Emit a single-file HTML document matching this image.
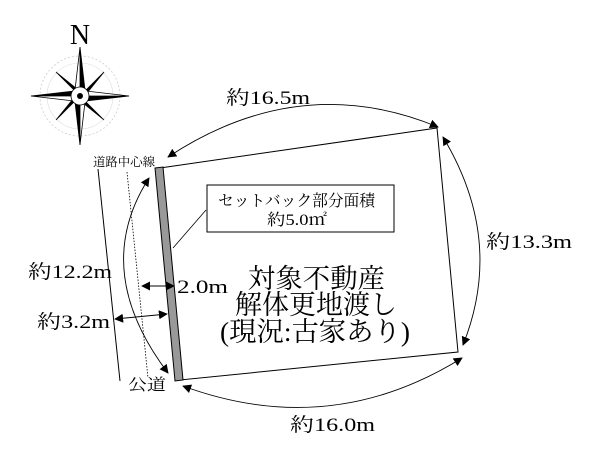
<!DOCTYPE html>
<html><head><meta charset="utf-8"><style>
html,body{margin:0;padding:0;background:#fff;}
svg{display:block}
text{font-family:"Liberation Serif","Noto Serif CJK JP","Noto Serif CJK SC",serif;fill:#000}
</style></head><body>
<svg width="600" height="455" viewBox="0 0 600 455" xmlns="http://www.w3.org/2000/svg">
<defs>
<marker id="a" viewBox="0 0 10 10" refX="9" refY="5" markerWidth="9" markerHeight="9" orient="auto-start-reverse" markerUnits="userSpaceOnUse"><path d="M0,0L10,5L0,10z" fill="#000"/></marker>
</defs>
<!-- compass -->
<text x="80" y="44" font-size="28" text-anchor="middle">N</text>
<g transform="translate(80,96)">
<circle r="40" fill="none" stroke="#ccc" stroke-width="0.8" stroke-dasharray="2 2"/>
<circle r="33" fill="none" stroke="#ddd" stroke-width="0.6"/>
<g fill="#000" stroke="#000" stroke-width="0.8">
<path d="M0,-49L5,-6L0,0z"/><path d="M0,-49L-5,-6L0,0z" fill="#fff"/>
<path d="M0,49L-5,6L0,0z"/><path d="M0,49L5,6L0,0z" fill="#fff"/>
<path d="M49,0L6,5L0,0z"/><path d="M49,0L6,-5L0,0z" fill="#fff"/>
<path d="M-49,0L-6,-5L0,0z"/><path d="M-49,0L-6,5L0,0z" fill="#fff"/>
<path d="M-24,-24L-3,-7L0,0z"/><path d="M24,-24L7,-3L0,0z"/><path d="M24,24L3,7L0,0z"/><path d="M-24,24L-7,3L0,0z"/>
</g>
<circle r="9" fill="#fff" stroke="#000" stroke-width="0.8"/>
<circle r="3" fill="#000"/>
</g>
<!-- road lines -->
<line x1="98" y1="169" x2="120" y2="381" stroke="#000" stroke-width="1"/>
<line x1="127" y1="172" x2="148" y2="378" stroke="#000" stroke-width="0.8" stroke-dasharray="1.5 1.5"/>
<!-- property -->
<polygon points="160,168 437,128 458,352 180,380" fill="#fff" stroke="#000" stroke-width="1"/>
<polygon points="155,168 163,167 183,380 175,381" fill="#999" stroke="#000" stroke-width="1"/>
<!-- setback box -->
<line x1="206" y1="210" x2="173" y2="248" stroke="#000" stroke-width="0.8"/>
<rect x="207" y="185" width="187" height="47" fill="#fff" stroke="#000" stroke-width="1"/>
<text x="218" y="206" font-size="16" textLength="157" lengthAdjust="spacingAndGlyphs">セットバック部分面積</text>
<text x="267" y="225" font-size="16" textLength="60" lengthAdjust="spacingAndGlyphs">約5.0㎡</text>
<!-- main text -->
<text x="248" y="288" font-size="27" textLength="137" lengthAdjust="spacingAndGlyphs">対象不動産</text>
<text x="235" y="314" font-size="27" textLength="162" lengthAdjust="spacingAndGlyphs">解体更地渡し</text>
<text x="220" y="341" font-size="27" textLength="190" lengthAdjust="spacingAndGlyphs">(現況:古家あり)</text>
<!-- arcs -->
<path d="M168,157 Q300,70 438,127" fill="none" stroke="#000" stroke-width="0.9" marker-start="url(#a)" marker-end="url(#a)"/>
<path d="M443,137 Q505,240 463,345" fill="none" stroke="#000" stroke-width="0.9" marker-start="url(#a)" marker-end="url(#a)"/>
<path d="M183,386 Q330,440 462,358" fill="none" stroke="#000" stroke-width="0.9" marker-start="url(#a)" marker-end="url(#a)"/>
<path d="M149,178 Q90,270 168,373" fill="none" stroke="#000" stroke-width="0.9" marker-start="url(#a)" marker-end="url(#a)"/>
<!-- horizontal arrows -->
<line x1="142" y1="286" x2="174" y2="286" stroke="#000" stroke-width="1" marker-start="url(#a)" marker-end="url(#a)"/>
<line x1="115" y1="319" x2="167" y2="314" stroke="#000" stroke-width="1" marker-start="url(#a)" marker-end="url(#a)"/>
<!-- labels -->
<text x="226" y="104" font-size="19" textLength="84" lengthAdjust="spacingAndGlyphs">約16.5m</text>
<text x="486" y="248" font-size="19" textLength="86" lengthAdjust="spacingAndGlyphs">約13.3m</text>
<text x="290" y="431" font-size="19" textLength="85" lengthAdjust="spacingAndGlyphs">約16.0m</text>
<text x="28" y="278" font-size="19" textLength="84" lengthAdjust="spacingAndGlyphs">約12.2m</text>
<text x="37" y="328" font-size="19" textLength="73" lengthAdjust="spacingAndGlyphs">約3.2m</text>
<text x="177" y="293" font-size="19" textLength="51" lengthAdjust="spacingAndGlyphs">2.0m</text>
<text x="93" y="166" font-size="12" textLength="62" lengthAdjust="spacingAndGlyphs">道路中心線</text>
<text x="128" y="390" font-size="16" textLength="38" lengthAdjust="spacingAndGlyphs">公道</text>
</svg>
</body></html>
